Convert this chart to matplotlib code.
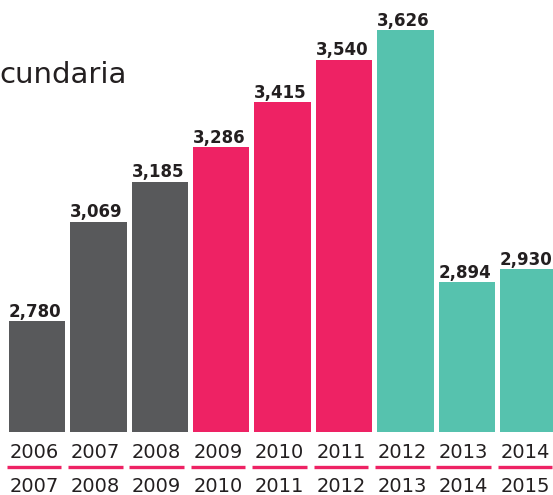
import matplotlib
matplotlib.use("Agg")
import matplotlib.pyplot as plt
import matplotlib.transforms as mtransforms
import numpy as np

# data
start_years = ["2006", "2007", "2008", "2009", "2010", "2011", "2012", "2013", "2014"]
end_years = ["2007", "2008", "2009", "2010", "2011", "2012", "2013", "2014", "2015"]
values = [2780, 3069, 3185, 3286, 3415, 3540, 3626, 2894, 2930]
groups = ["gray", "gray", "gray", "pink", "pink", "pink", "teal", "teal", "teal"]

palette = {"gray": "#58595B", "pink": "#EE2264", "teal": "#56C2AE"}
text_color = "#231F20"

fig = plt.figure(figsize=(5.53, 4.95), dpi=100)
ax = fig.add_axes([0, 1 - 432 / 495, 1, 432 / 495])

x = np.arange(len(values))
ax.bar(x, values, width=0.92, color=[palette[g] for g in groups])
ax.set_xlim(-0.6026, 8.404)
ax.set_ylim(2457, 3713)
ax.axis("off")

# value labels
for xi, v in zip(x, values):
    ax.annotate(f"{v:,}", (xi, v), xytext=(-1.5, 3), textcoords="offset points",
                ha="center", va="baseline", fontsize=12, fontweight="bold",
                color=text_color)

# two-line period labels with pink underline
trans = mtransforms.blended_transform_factory(ax.transData, fig.transFigure)
for xi, a, b in zip(x, start_years, end_years):
    xc = xi - 0.05
    ax.text(xc, 1 - 458 / 495, a, transform=trans, ha="center", va="baseline",
            fontsize=14, color=text_color, clip_on=False)
    ax.plot([xc - 0.445, xc + 0.445], [1 - 467 / 495] * 2, transform=trans,
            color=palette["pink"], linewidth=2.4, solid_capstyle="butt", clip_on=False)
    ax.text(xc, 1 - 492 / 495, b, transform=trans, ha="center", va="baseline",
            fontsize=14, color=text_color, clip_on=False)

# title fragment (cut off on the left in the original)
fig.text(-0.002, 1 - 83 / 495, "cundaria", ha="left", va="baseline",
         fontsize=21, color=text_color)

fig.savefig("out.png", dpi=100)
